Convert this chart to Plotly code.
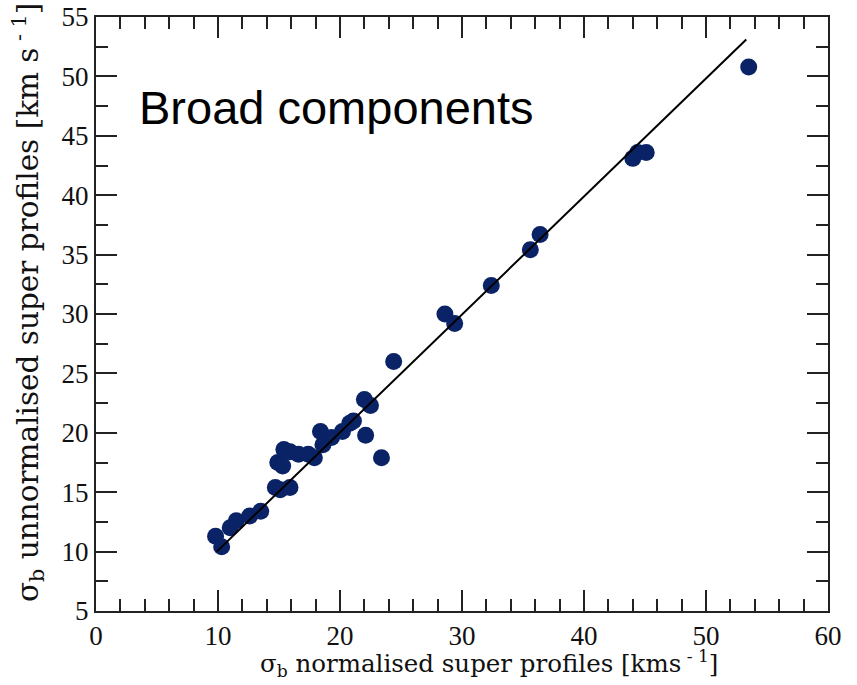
import plotly.graph_objects as go

# Velocity dispersion of the broad component: normalised vs unnormalised super profiles
sigma_norm = [9.8, 10.3, 11.0, 11.5, 12.6, 13.5, 14.7, 15.1, 15.9, 14.9,
              15.3, 15.4, 15.9, 16.6, 17.4, 17.9, 18.4, 18.6, 19.3, 20.2,
              20.8, 21.1, 22.0, 22.5, 22.1, 23.4, 24.4, 28.6, 29.4, 32.4,
              35.6, 36.4, 44.0, 44.4, 45.1, 53.5]
sigma_unnorm = [11.3, 10.4, 12.0, 12.6, 13.0, 13.4, 15.4, 15.2, 15.4, 17.5,
                17.2, 18.6, 18.4, 18.2, 18.2, 17.9, 20.1, 19.0, 19.6, 20.1,
                20.8, 21.0, 22.8, 22.3, 19.8, 17.9, 26.0, 30.0, 29.2, 32.4,
                35.4, 36.7, 43.1, 43.6, 43.6, 50.8]

# Linear fit endpoints
fit_x = [9.9, 53.3]
fit_y = [10.0, 53.1]

x_ticks = [0, 10, 20, 30, 40, 50, 60]
y_ticks = [5, 10, 15, 20, 25, 30, 35, 40, 45, 50, 55]

navy = "#0a2266"
tick_serif = "Liberation Serif, DejaVu Serif, serif"
title_serif = "DejaVu Serif, Liberation Serif, serif"

fig = go.Figure()
fig.add_trace(go.Scatter(
    x=sigma_norm, y=sigma_unnorm, mode="markers",
    marker=dict(color=navy, size=17, line=dict(width=0)),
    showlegend=False,
))
fig.add_trace(go.Scatter(
    x=fit_x, y=fit_y, mode="lines",
    line=dict(color="black", width=2),
    showlegend=False,
))

axis_common = dict(
    showgrid=False, zeroline=False, automargin=False,
    showline=True, linecolor="#222222", linewidth=2, mirror="ticks",
    ticks="inside", ticklen=21, tickwidth=2, tickcolor="#222222",
    tickfont=dict(family=tick_serif, size=27, color="#111111"),
)

fig.update_xaxes(
    range=[0, 60], tickvals=x_ticks, ticktext=[str(v) for v in x_ticks],
    minor=dict(dtick=2, ticks="inside", ticklen=12, tickwidth=2, tickcolor="#222222"),
    **axis_common,
)
fig.update_yaxes(
    range=[5, 55], tickvals=y_ticks, ticktext=[str(v) for v in y_ticks],
    minor=dict(dtick=2.5, ticks="inside", ticklen=12, tickwidth=2, tickcolor="#222222"),
    **axis_common,
)

# Axis titles
fig.add_annotation(
    x=0.537, y=-0.120, xref="paper", yref="paper", xanchor="center", yanchor="bottom",
    text="σ<sub>b</sub> normalised super profiles [kms<sup> - 1</sup>]", showarrow=False,
    font=dict(family=title_serif, size=24.5, color="#111111"), borderpad=0,
)
fig.add_annotation(
    x=-0.093, y=0.52, xref="paper", yref="paper", xanchor="center", yanchor="middle",
    textangle=-90,
    text="σ<sub>b</sub> unnormalised super profiles [km s<sup> - 1</sup>]", showarrow=False,
    font=dict(family=title_serif, size=29.5, color="#111111"),
)

fig.add_annotation(
    x=3.35, y=47.4, xref="x", yref="y", xanchor="left", yanchor="middle",
    text="Broad components", showarrow=False,
    font=dict(family="Liberation Sans, Arial, sans-serif", size=47, color="black"),
)

fig.update_layout(
    width=857, height=685,
    margin=dict(l=96, r=29, t=17, b=74),
    paper_bgcolor="white", plot_bgcolor="white",
)

fig.write_html("out.html")
